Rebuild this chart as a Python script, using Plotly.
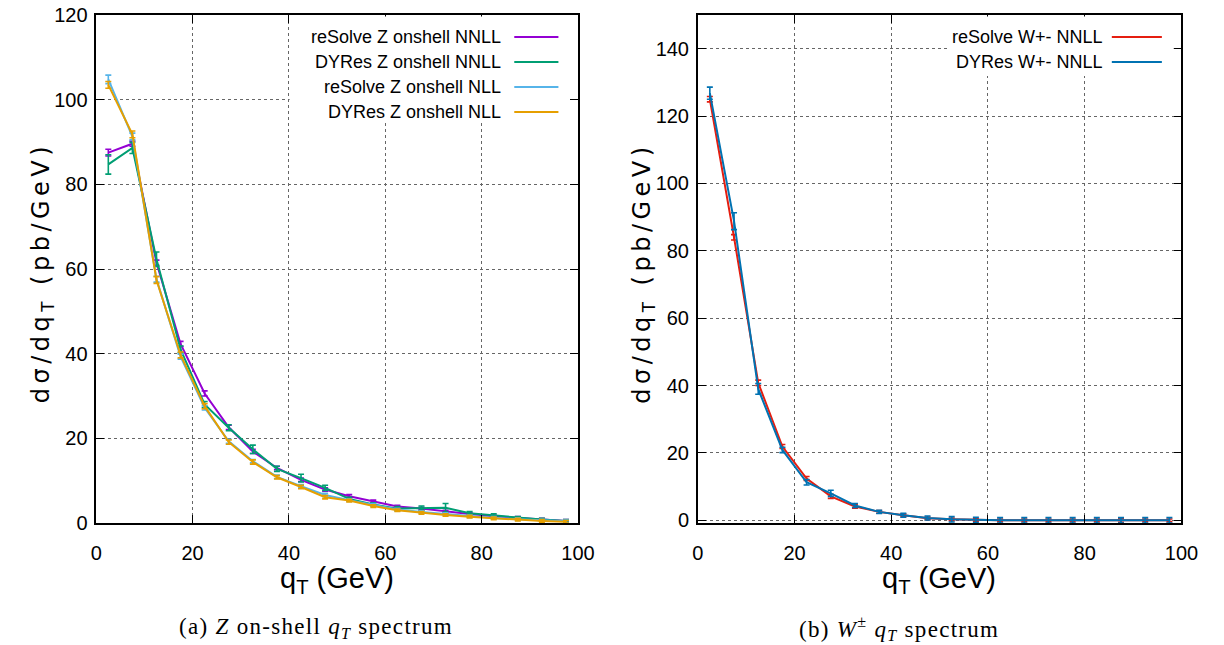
import plotly.graph_objects as go

# transverse-momentum bin centres (GeV)
qt = [2.5, 7.5, 12.5, 17.5, 22.5, 27.5, 32.5, 37.5, 42.5, 47.5,
      52.5, 57.5, 62.5, 67.5, 72.5, 77.5, 82.5, 87.5, 92.5, 97.5]

# Z on-shell spectra (pb/GeV) and their uncertainties
resolve_z_nnll = [87.5, 89.6, 61.5, 42.3, 30.6, 22.6, 16.9, 13.0, 10.2, 7.9,
                  6.3, 5.1, 3.9, 3.4, 2.7, 2.1, 1.6, 1.2, 0.8, 0.5]
resolve_z_nnll_err = [0.8, 0.6, 0.6, 0.6, 0.6, 0.5, 0.5, 0.4, 0.4, 0.4,
                      0.4, 0.3, 0.3, 0.3, 0.3, 0.3, 0.3, 0.3, 0.3, 0.3]
dyres_z_nnll = [84.7, 88.6, 62.3, 41.0, 28.0, 22.5, 17.4, 12.8, 10.6, 8.3,
                5.7, 4.4, 3.4, 3.5, 3.6, 2.3, 1.8, 1.2, 0.8, 0.5]
dyres_z_nnll_err = [2.3, 1.3, 1.7, 0.8, 0.7, 0.7, 1.0, 0.6, 0.9, 0.6,
                    0.4, 0.4, 0.5, 0.5, 1.0, 0.4, 0.4, 0.3, 0.3, 0.3]
resolve_z_nll = [104.8, 91.3, 57.6, 39.3, 27.2, 19.3, 14.6, 10.9, 8.7, 6.6,
                 5.4, 4.3, 3.2, 2.6, 2.1, 1.6, 1.2, 0.9, 0.6, 0.4]
resolve_z_nll_err = [1.0, 0.8, 0.7, 0.6, 0.5, 0.5, 0.4, 0.4, 0.4, 0.4,
                     0.3, 0.3, 0.3, 0.3, 0.3, 0.3, 0.3, 0.3, 0.3, 0.3]
dyres_z_nll = [103.5, 91.8, 57.4, 39.7, 27.6, 19.1, 14.4, 10.8, 8.5, 6.1,
               5.3, 4.0, 3.0, 2.4, 1.9, 1.5, 1.1, 0.8, 0.5, 0.3]
dyres_z_nll_err = [0.8, 0.8, 0.8, 0.7, 0.6, 0.5, 0.5, 0.4, 0.4, 0.4,
                   0.3, 0.3, 0.3, 0.3, 0.3, 0.3, 0.3, 0.3, 0.3, 0.3]

# W+- spectra (pb/GeV) and their uncertainties
resolve_w_nnll = [125.0, 84.0, 40.8, 21.9, 12.4, 7.1, 4.1, 2.5, 1.5, 0.6,
                  0.3, 0.1, 0.0, 0.0, 0.0, 0.0, 0.0, 0.0, 0.0, 0.0]
resolve_w_nnll_err = [0.8, 0.8, 0.8, 0.6, 0.6, 0.6, 0.5, 0.4, 0.4, 0.4,
                      0.4, 0.4, 0.4, 0.4, 0.4, 0.4, 0.4, 0.6, 0.4, 0.4]
dyres_w_nnll = [126.8, 88.8, 39.0, 20.9, 11.3, 8.0, 4.4, 2.5, 1.5, 0.7,
                0.3, 0.1, 0.0, 0.0, 0.0, 0.0, 0.0, 0.0, 0.0, 0.0]
dyres_w_nnll_err = [1.8, 2.5, 1.6, 0.8, 0.8, 0.9, 0.6, 0.5, 0.6, 0.6,
                    0.8, 0.8, 0.8, 0.8, 0.8, 0.8, 0.8, 0.8, 0.8, 0.8]

z_series = [
    ("reSolve Z onshell NNLL", resolve_z_nnll, resolve_z_nnll_err, "#9400D3"),
    ("DYRes Z onshell NNLL", dyres_z_nnll, dyres_z_nnll_err, "#009E73"),
    ("reSolve Z onshell NLL", resolve_z_nll, resolve_z_nll_err, "#56B4E9"),
    ("DYRes Z onshell NLL", dyres_z_nll, dyres_z_nll_err, "#E69F00"),
]
w_series = [
    ("reSolve W+- NNLL", resolve_w_nnll, resolve_w_nnll_err, "#E51E10"),
    ("DYRes W+- NNLL", dyres_w_nnll, dyres_w_nnll_err, "#0072B2"),
]

W, H = 1224, 645
TOP, BOTTOM = 15, 523
NARROW = "Liberation Sans Narrow, Arial Narrow, Liberation Sans, sans-serif"
WIDE = "DejaVu Sans, Liberation Sans, sans-serif"
SERIF = "Liberation Serif, DejaVu Serif, serif"


def px(x):
    return x / W


def py(y):
    return (BOTTOM - y) / (BOTTOM - TOP)


fig = go.Figure()

for name, ys, err, col in z_series:
    fig.add_trace(go.Scatter(
        x=qt, y=ys, name=name, mode="lines", xaxis="x", yaxis="y",
        line=dict(color=col, width=2),
        error_y=dict(type="data", array=err, color=col, thickness=1.6, width=3),
        showlegend=False))

for name, ys, err, col in w_series:
    fig.add_trace(go.Scatter(
        x=qt, y=ys, name=name, mode="lines", xaxis="x2", yaxis="y2",
        line=dict(color=col, width=2),
        error_y=dict(type="data", array=err, color=col, thickness=1.6, width=3),
        showlegend=False))

axis_common = dict(
    showline=True, linecolor="black", linewidth=1.5, mirror="allticks",
    ticks="inside", ticklen=8, tickcolor="black", tickwidth=1.2,
    showgrid=True, gridcolor="#666", griddash="dot", gridwidth=1,
    zeroline=False, tickfont=dict(family=NARROW, size=20, color="black"),
)

fig.update_layout(
    width=W, height=H,
    margin=dict(l=0, r=0, t=TOP, b=H - BOTTOM),
    paper_bgcolor="white", plot_bgcolor="white",
    xaxis=dict(domain=[px(92), px(583)], range=[0, 100], dtick=20,
               ticklabelstandoff=11, anchor="y", **axis_common),
    yaxis=dict(domain=[0, 1], range=[0, 120], dtick=20, anchor="x",
               ticklabelstandoff=3, **axis_common),
    xaxis2=dict(domain=[px(705), px(1198)], range=[0, 100], dtick=20,
                ticklabelstandoff=11, anchor="y2", **axis_common),
    yaxis2=dict(domain=[0, 1], range=[-0.8, 150], dtick=20, anchor="x2",
                ticklabelstandoff=3, **axis_common),
)

shapes = []
annotations = []

# opaque key boxes
for x0, x1, y1 in [(289, 572, 123), (962, 1190, 76)]:
    shapes.append(dict(type="rect", xref="paper", yref="paper",
                       x0=px(x0), x1=px(x1), y0=py(y1), y1=py(16.5),
                       fillcolor="white", line=dict(width=0), layer="above"))


def key(entries, text_right, line_x0, line_x1):
    for i, (name, _, _, col) in enumerate(entries):
        yc = 37 + 25 * i
        annotations.append(dict(
            x=px(text_right), y=py(yc), xref="paper", yref="paper",
            text=name, showarrow=False, xanchor="right", yanchor="middle",
            font=dict(family=NARROW, size=18, color="black")))
        shapes.append(dict(type="line", xref="paper", yref="paper",
                           x0=px(line_x0), x1=px(line_x1), y0=py(yc), y1=py(yc),
                           line=dict(color=col, width=2), layer="above"))


key(z_series, 507, 518, 563)
key(w_series, 1120, 1127, 1178)

ytitle = ("<span style='letter-spacing:4.5px'>d&#963;/dq<sub>T</sub> "
          "(pb/GeV)</span>")
for xc in (37, 649):
    annotations.append(dict(
        x=px(xc), y=py(273), xref="paper", yref="paper", text=ytitle,
        textangle=-90, showarrow=False, xanchor="center", yanchor="middle",
        font=dict(family=WIDE, size=24, color="black")))

for xc in (337, 951):
    annotations.append(dict(
        x=px(xc), y=py(580), xref="paper", yref="paper",
        text="q<sub>T</sub> (GeV)", showarrow=False,
        xanchor="center", yanchor="middle",
        font=dict(family=NARROW, size=29, color="black")))

captions = [
    (316, "(a) <i>Z</i> on-shell <i>q<sub>T</sub></i> spectrum"),
    (910, "(b) <i>W</i><sup>&#177;</sup> <i>q<sub>T</sub></i> spectrum"),
]
for xc, txt in captions:
    annotations.append(dict(
        x=px(xc), y=py(628), xref="paper", yref="paper",
        text="<span style='letter-spacing:1.3px'>" + txt + "</span>",
        showarrow=False, xanchor="center", yanchor="middle",
        font=dict(family=SERIF, size=23, color="black")))

fig.update_layout(shapes=shapes, annotations=annotations)

fig.write_html("out.html")
